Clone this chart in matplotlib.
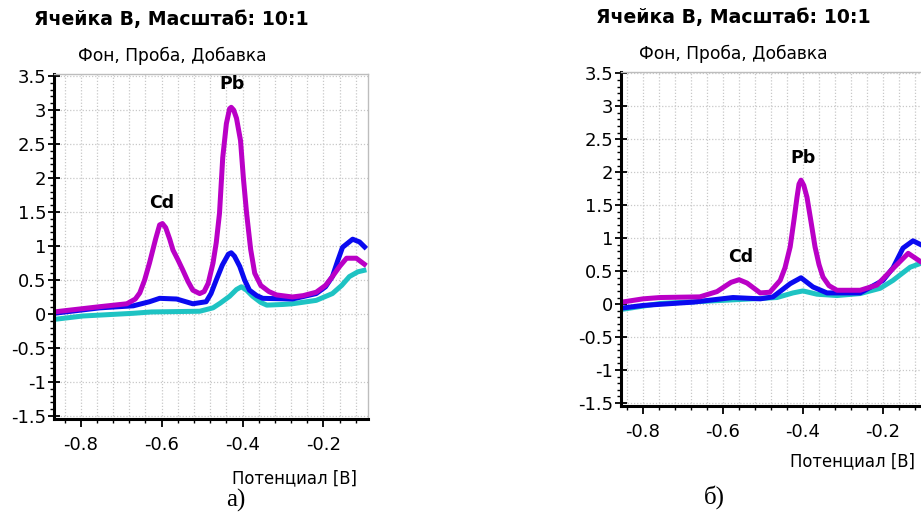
import matplotlib
matplotlib.use("Agg")
import matplotlib.pyplot as plt
from matplotlib.ticker import MultipleLocator

# ---- panel а) : background, sample, sample + addition ----
a_bg_x = [-0.866, -0.795, -0.67, -0.625, -0.506, -0.473, -0.455, -0.432, -0.415, -0.403,
          -0.39, -0.375, -0.355, -0.34, -0.30, -0.277, -0.218, -0.178, -0.155, -0.136,
          -0.115, -0.094]
a_bg_y = [-0.08, -0.03, 0.01, 0.03, 0.04, 0.09, 0.16, 0.26, 0.36, 0.40,
          0.35, 0.26, 0.17, 0.13, 0.14, 0.15, 0.20, 0.30, 0.42, 0.55,
          0.62, 0.65]

a_probe_x = [-0.866, -0.753, -0.67, -0.63, -0.605, -0.563, -0.523, -0.49, -0.478, -0.465,
             -0.45, -0.435, -0.428, -0.42, -0.407, -0.395, -0.383, -0.365, -0.35, -0.277,
             -0.218, -0.195, -0.178, -0.165, -0.153, -0.128, -0.111, -0.094]
a_probe_y = [0.01, 0.09, 0.12, 0.18, 0.23, 0.22, 0.15, 0.18, 0.30, 0.50,
             0.72, 0.88, 0.90, 0.85, 0.70, 0.50, 0.35, 0.27, 0.23, 0.22,
             0.30, 0.40, 0.55, 0.78, 0.98, 1.10, 1.06, 0.96]

a_add_x = [-0.866, -0.753, -0.686, -0.665, -0.654, -0.642, -0.63, -0.615, -0.605, -0.598,
           -0.59, -0.58, -0.572, -0.56, -0.548, -0.535, -0.523, -0.506, -0.495, -0.485,
           -0.473, -0.465, -0.457, -0.449, -0.44, -0.432, -0.428, -0.422, -0.415, -0.405,
           -0.398, -0.39, -0.38, -0.37, -0.355, -0.335, -0.316, -0.277, -0.25, -0.218,
           -0.195, -0.178, -0.16, -0.143, -0.119, -0.094]
a_add_y = [0.03, 0.107, 0.15, 0.22, 0.31, 0.50, 0.75, 1.10, 1.31, 1.33,
           1.27, 1.10, 0.94, 0.80, 0.65, 0.48, 0.35, 0.30, 0.33, 0.45,
           0.75, 1.05, 1.48, 2.30, 2.80, 3.02, 3.04, 3.00, 2.88, 2.55,
           2.00, 1.48, 0.95, 0.60, 0.42, 0.33, 0.28, 0.25, 0.27, 0.32,
           0.42, 0.55, 0.70, 0.82, 0.82, 0.71]

# ---- panel б) ----
b_bg_x = [-0.853, -0.757, -0.59, -0.465, -0.425, -0.40, -0.365, -0.315, -0.257,
          -0.207, -0.175, -0.132, -0.105, -0.09]
b_bg_y = [-0.08, 0.01, 0.06, 0.10, 0.17, 0.20, 0.15, 0.13, 0.16,
          0.24, 0.36, 0.56, 0.62, 0.63]

b_probe_x = [-0.853, -0.80, -0.675, -0.575, -0.507, -0.475, -0.432, -0.405, -0.375,
             -0.34, -0.257, -0.20, -0.175, -0.15, -0.125, -0.105, -0.09]
b_probe_y = [-0.06, -0.02, 0.03, 0.10, 0.08, 0.11, 0.31, 0.40, 0.26,
             0.17, 0.17, 0.36, 0.55, 0.85, 0.96, 0.90, 0.85]

b_add_x = [-0.853, -0.80, -0.757, -0.658, -0.615, -0.58, -0.56, -0.54, -0.507, -0.483,
           -0.457, -0.445, -0.432, -0.422, -0.415, -0.41, -0.405, -0.398, -0.39, -0.38,
           -0.37, -0.36, -0.35, -0.335, -0.315, -0.257, -0.215, -0.175, -0.137, -0.105,
           -0.09]
b_add_y = [0.03, 0.08, 0.10, 0.11, 0.19, 0.33, 0.37, 0.32, 0.17, 0.18,
           0.36, 0.55, 0.87, 1.30, 1.62, 1.82, 1.88, 1.80, 1.62, 1.25,
           0.87, 0.60, 0.41, 0.28, 0.21, 0.21, 0.29, 0.54, 0.77, 0.64,
           0.58]

x_ticks = [-0.8, -0.6, -0.4, -0.2]
y_ticks = [-1.5, -1, -0.5, 0, 0.5, 1, 1.5, 2, 2.5, 3, 3.5]
y_tick_labels = ["-1.5", "-1", "-0.5", "0", "0.5", "1", "1.5", "2", "2.5", "3", "3.5"]

title_text = "Ячейка B, Масштаб: 10:1"
subtitle_text = "Фон, Проба, Добавка"
xlabel_text = "Потенциал [B]"

C_BG = "#1EC3C3"
C_PROBE = "#0A0AF0"
C_ADD = "#BA00C6"

W, H = 921, 515
fig = plt.figure(figsize=(W / 100, H / 100), dpi=100)
plt.rcParams["font.family"] = ["DejaVu Sans"]


def px_axes(left, top, right, bottom):
    return fig.add_axes([left / W, 1 - bottom / H, (right - left) / W, (bottom - top) / H])


def style(ax, xlim, ylim):
    ax.set_xlim(*xlim)
    ax.set_ylim(*ylim)
    ax.set_xticks(x_ticks)
    ax.set_xticklabels([f"{v:g}" for v in x_ticks])
    ax.set_yticks(y_ticks)
    ax.set_yticklabels(y_tick_labels)
    ax.xaxis.set_minor_locator(MultipleLocator(0.04))
    ax.yaxis.set_minor_locator(MultipleLocator(0.1))
    ax.grid(which="major", axis="y", color="#C8C8C8", linestyle=(0, (1, 1.5)), lw=0.9)
    ax.grid(which="both", axis="x", color="#C8C8C8", linestyle=(0, (1, 1.5)), lw=0.9)
    ax.set_axisbelow(True)
    for s in ("left", "bottom"):
        ax.spines[s].set_color("black")
        ax.spines[s].set_linewidth(2.2)
    for s in ("top", "right"):
        ax.spines[s].set_color("#BDBDBD")
        ax.spines[s].set_linewidth(1.0)
    ax.tick_params(axis="y", which="major", direction="inout", length=9, width=1.3,
                   labelsize=13, pad=1)
    ax.tick_params(axis="y", which="minor", direction="out", length=3, width=1.0)
    ax.tick_params(axis="x", which="major", direction="out", length=6, width=1.3,
                   labelsize=13, pad=6)
    ax.tick_params(axis="x", which="minor", direction="out", length=3, width=1.0)


def curves(ax, bx, by, px, py, ax_, ay_):
    kw = dict(lw=3.6, solid_joinstyle="round", solid_capstyle="butt")
    ax.plot(bx, by, color=C_BG, **kw)
    ax.plot(px, py, color=C_PROBE, **kw)
    ax.plot(ax_, ay_, color=C_ADD, **kw)


# panel а)
axa = px_axes(54, 74, 368, 419)
style(axa, (-0.866, -0.09), (-1.545, 3.53))
curves(axa, a_bg_x, a_bg_y, a_probe_x, a_probe_y, a_add_x, a_add_y)
axa.text(-0.425, 3.38, "Pb", ha="center", va="center", fontsize=12.5, fontweight="bold")
axa.text(-0.600, 1.63, "Cd", ha="center", va="center", fontsize=12.5, fontweight="bold")

# panel б)
axb = px_axes(621, 72, 927, 406)
style(axb, (-0.855, -0.09), (-1.545, 3.52))
curves(axb, b_bg_x, b_bg_y, b_probe_x, b_probe_y, b_add_x, b_add_y)
axb.text(-0.400, 2.21, "Pb", ha="center", va="center", fontsize=12.5, fontweight="bold")
axb.text(-0.557, 0.71, "Cd", ha="center", va="center", fontsize=12.5, fontweight="bold")


def ftext(x, y, s, **kw):
    fig.text(x / W, 1 - y / H, s, **kw)


ftext(171, 20, title_text, ha="center", va="center", fontsize=13.6, fontweight="bold")
ftext(172, 56, subtitle_text, ha="center", va="center", fontsize=12.3)
ftext(294, 478, xlabel_text, ha="center", va="center", fontsize=11.9)
ftext(236, 500, "а)", ha="center", va="center", fontsize=18, family="Liberation Serif")

ftext(733, 18, title_text, ha="center", va="center", fontsize=13.6, fontweight="bold")
ftext(733, 54, subtitle_text, ha="center", va="center", fontsize=12.3)
ftext(852, 461, xlabel_text, ha="center", va="center", fontsize=11.9)
ftext(714, 497, "б)", ha="center", va="center", fontsize=18, family="Liberation Serif")

fig.savefig("out.png", dpi=100)
